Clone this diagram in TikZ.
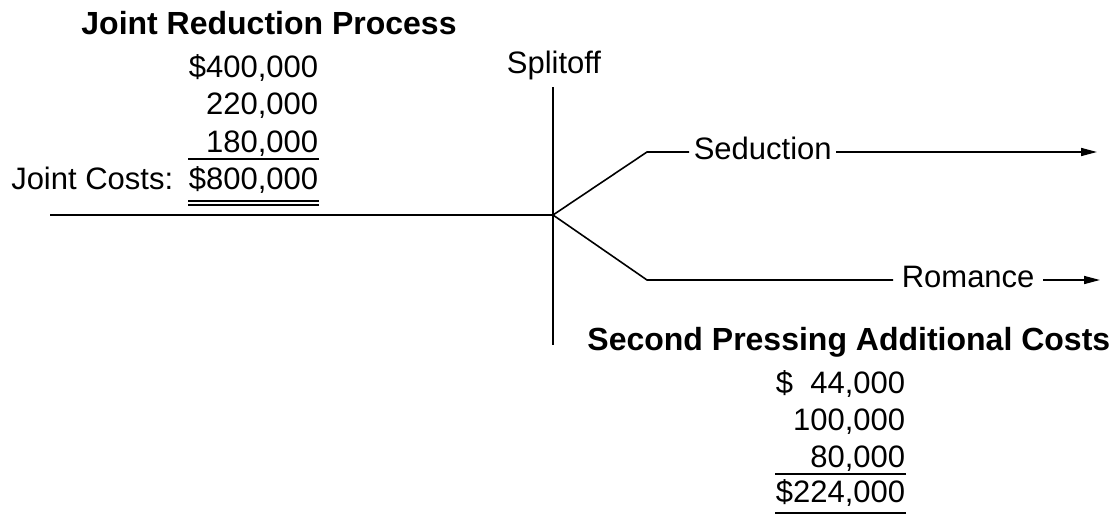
\documentclass[tikz,border=0pt]{standalone}
\usepackage{fontspec}
\setmainfont{Liberation Sans}
\usetikzlibrary{arrows.meta}

\begin{document}
\begin{tikzpicture}[x=1pt,y=-1pt,line width=1.6pt]
  \tikzstyle{heading}=[font=\fontsize{32}{37}\selectfont\bfseries, inner sep=0pt, anchor=base]
  \tikzstyle{amount}=[font=\fontsize{31}{37}\selectfont, inner sep=0pt, anchor=base east]
  \tikzstyle{branchlabel}=[font=\fontsize{31}{37}\selectfont, inner ysep=0pt, inner xsep=4pt, anchor=base west]
  \tikzstyle{flow}=[-{Triangle[length=16pt,width=8pt]}]
  \useasboundingbox (0,0) rectangle (1115,514);
  % joint process
  \node[heading] (jrtitle) at (269,34) {Joint Reduction Process};
  \node[amount] (jc1) at (319,77) {\$400,000};
  \node[amount] (jc2) at (319,114) {220,000};
  \node[amount] (jc3) at (319,152) {180,000};
  \node[amount] (jc4) at (319,189) {\$800,000};
  \node[amount] (jclabel) at (174,189) {Joint Costs:};
  \draw ([yshift=-7pt]jc3.base east) -- ([yshift=-7pt]jc3.base east -| jc4.west);
  \draw ([yshift=-12pt]jc4.base east) -- ([yshift=-12pt]jc4.base east -| jc4.west);
  \draw ([yshift=-16pt]jc4.base east) -- ([yshift=-16pt]jc4.base east -| jc4.west);
  % splitoff point
  \coordinate (jointin) at (50,215);
  \coordinate (split) at (553,215);
  \coordinate (spltop) at (553,87);
  \coordinate (splbot) at (553,345);
  \node[amount, anchor=base] (spltext) at (554,73) {Splitoff};
  \draw (jointin) -- (split);
  \draw (spltop) -- (splbot);
  % products
  \coordinate (sedturn) at (647,152);
  \coordinate (romturn) at (647,280);
  \coordinate (sedend) at (1097,152);
  \coordinate (romend) at (1100,280);
  \node[branchlabel] (sed) at (689,159) {Seduction};
  \node[branchlabel, inner xsep=8pt] (rom) at (893,287) {Romance};
  \draw (split) -- (sedturn) -- ([yshift=7pt]sed.base west);
  \draw[flow] ([yshift=7pt]sed.base east) -- (sedend);
  \draw (split) -- (romturn) -- ([yshift=7pt]rom.base west);
  \draw[flow] ([yshift=7pt]rom.base east) -- (romend);
  % additional costs
  \node[heading, anchor=base east] (actitle) at (1111,350) {Second Pressing Additional Costs};
  \node[amount] (ac1) at (906,393) {\$\hphantom{2}44,000};
  \node[amount] (ac2) at (906,430) {100,000};
  \node[amount] (ac3) at (906,467) {80,000};
  \node[amount] (ac4) at (906,502) {\$224,000};
  \draw ([yshift=-7pt]ac3.base east) -- ([yshift=-7pt]ac3.base east -| ac4.west);
  \draw ([yshift=-11pt]ac4.base east) -- ([yshift=-11pt]ac4.base east -| ac4.west);
\end{tikzpicture}
\end{document}
